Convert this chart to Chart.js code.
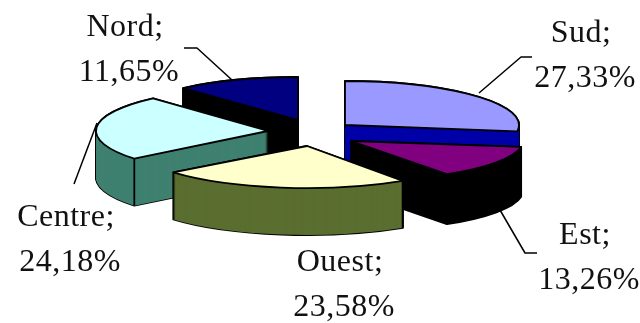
<!DOCTYPE html>
<html>
<head>
<meta charset="utf-8">
<style>
  html, body { margin: 0; padding: 0; background: #fff; }
  #chart { display: block; }
</style>
</head>
<body>
<canvas id="chart" width="640" height="323"></canvas>
<script src="https://cdn.jsdelivr.net/npm/chart.js@4"></script>
<script>
const regions = ['Sud', 'Est', 'Ouest', 'Centre', 'Nord'];
const shares = [27.33, 13.26, 23.58, 24.18, 11.65];

const topColors = ['#9999ff', '#800080', '#ffffcc', '#ccffff', '#000080'];
const sideColors = ['#0000a8', '#000000', '#5a6e30', '#3f8070', '#000000'];

// apex and size of each pulled-out slice on the page
const apexX = [345, 351, 307, 268, 298];
const apexY = [125, 141, 146, 131, 120];
const radiusX = [174, 172, 172, 172, 172];
const radiusY = [44, 40, 42, 44, 43];
const depth = [47, 50, 47, 47, 47];
const drawOrder = [4, 0, 3, 1, 2];

// text and leader lines for each slice
const labelX = [581, 585, 340, 66, 125];
const baseY = [42, 244, 271, 226, 36];
const leaders = [
    [[479, 93], [521, 57], [532, 57]],
    [[500, 210], [525, 253], [537, 253]],
    [],
    [[97, 123], [74, 184]],
    [[232, 80], [197, 48], [184, 48]]
];
const lineGap = 45;
const secondLineShift = 4;

function toPage(ctx, arc, i, drop) {
    ctx.translate(apexX[i], apexY[i] + drop);
    ctx.scale(radiusX[i] / arc.outerRadius, radiusY[i] / arc.outerRadius);
    ctx.translate(-arc.x, -arc.y);
}

function tracePath(ctx, arc, i, drop) {
    ctx.save();
    toPage(ctx, arc, i, drop);
    ctx.beginPath();
    ctx.moveTo(arc.x, arc.y);
    ctx.arc(arc.x, arc.y, arc.outerRadius, arc.startAngle, arc.endAngle);
    ctx.closePath();
    ctx.restore();
}

const slices3d = {
    id: 'slices3d',
    beforeDatasetDraw() {
        return false;
    },
    afterDatasetsDraw(chart) {
        const ctx = chart.ctx;
        const arcs = chart.getDatasetMeta(0).data;

        drawOrder.forEach(i => {
            const arc = arcs[i];

            // black silhouette of the extruded side, then its fill
            ctx.strokeStyle = '#000';
            ctx.lineWidth = 1.8;
            ctx.lineJoin = 'round';
            for (let d = depth[i]; d >= 0; d--) {
                tracePath(ctx, arc, i, d);
                ctx.stroke();
            }
            ctx.fillStyle = sideColors[i];
            for (let d = depth[i]; d >= 0; d--) {
                tracePath(ctx, arc, i, d);
                ctx.fill();
            }

            // vertical edge under the leading corner
            const cornerX = apexX[i] + Math.cos(arc.startAngle) * radiusX[i];
            const cornerY = apexY[i] + Math.sin(arc.startAngle) * radiusY[i];
            ctx.beginPath();
            ctx.moveTo(cornerX, cornerY);
            ctx.lineTo(cornerX, cornerY + depth[i]);
            ctx.stroke();

            // top face comes from the arc element itself
            ctx.save();
            toPage(ctx, arc, i, 0);
            arc.draw(ctx);
            ctx.restore();

            tracePath(ctx, arc, i, 0);
            ctx.stroke();
        });

        ctx.strokeStyle = '#000';
        ctx.lineWidth = 1.5;
        leaders.forEach(points => {
            if (!points.length) return;
            ctx.beginPath();
            points.forEach((p, n) => n ? ctx.lineTo(p[0], p[1]) : ctx.moveTo(p[0], p[1]));
            ctx.stroke();
        });

        ctx.fillStyle = '#111';
        ctx.font = '32px "Liberation Serif", serif';
        ctx.letterSpacing = '0.5px';
        ctx.textAlign = 'center';
        ctx.textBaseline = 'alphabetic';
        regions.forEach((name, i) => {
            ctx.fillText(name + ';', labelX[i], baseY[i]);
            const pct = shares[i].toFixed(2).replace('.', ',') + '%';
            ctx.fillText(pct, labelX[i] + secondLineShift, baseY[i] + lineGap);
        });
    }
};

new Chart(document.getElementById('chart'), {
    type: 'pie',
    data: {
        labels: regions,
        datasets: [{
            data: shares,
            backgroundColor: topColors,
            borderWidth: 0
        }]
    },
    options: {
        responsive: false,
        animation: false,
        plugins: {
            legend: { display: false },
            tooltip: { enabled: false }
        }
    },
    plugins: [slices3d]
});
</script>
</body>
</html>
